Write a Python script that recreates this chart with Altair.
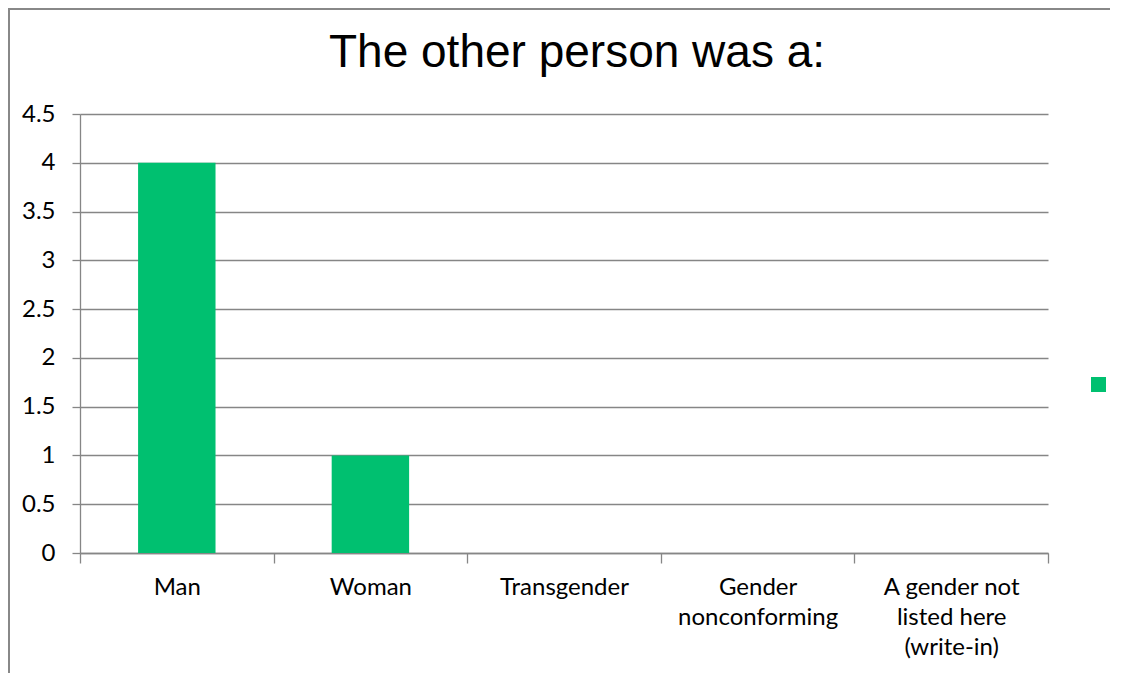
import altair as alt
import pandas as pd

categories = ["Man", "Woman", "Transgender", "Gender nonconforming",
              "A gender not listed here (write-in)"]
counts = [4, 1, 0, 0, 0]
label_lines = {
    "Gender nonconforming": ["Gender", "nonconforming"],
    "A gender not listed here (write-in)": ["A gender not", "listed here", "(write-in)"],
}
y_ticks = [0, 0.5, 1, 1.5, 2, 2.5, 3, 3.5, 4, 4.5]
series_name = "Series1"
bar_color = "#00C070"
grid_color = "#868686"

df = pd.DataFrame({"category": categories, "count": counts, "series": series_name})

label_expr = "".join(
    f"datum.value == '{k}' ? {v!r} : " for k, v in label_lines.items()
) + "datum.label"

bars = alt.Chart(df).mark_bar(width=alt.RelativeBandSize(0.4)).encode(
    x=alt.X("category:N", sort=categories, title=None,
            scale=alt.Scale(paddingInner=0, paddingOuter=0),
            axis=alt.Axis(tickBand="extent", labelAngle=0, labelExpr=label_expr,
                          labelFont="Lato", labelFontSize=24, labelColor="#000000",
                          labelLineHeight=30, labelPadding=12, labelBaseline="top",
                          tickSize=10, tickColor=grid_color, tickWidth=1.3,
                          domainColor=grid_color, domainWidth=1.3, grid=False,
                          labelLimit=300)),
    y=alt.Y("count:Q", title=None, scale=alt.Scale(domain=[0, 4.5], nice=False),
            axis=alt.Axis(values=y_ticks, labelExpr="toString(datum.value)",
                          labelFont="Lato", labelFontSize=24, labelColor="#000000",
                          labelPadding=17, tickSize=8, tickColor=grid_color,
                          tickWidth=1.3, domainColor=grid_color, domainWidth=1.3,
                          grid=True, gridColor=grid_color, gridWidth=1.3)),
    color=alt.Color("series:N", scale=alt.Scale(range=[bar_color]),
                    legend=alt.Legend(title=None, orient="none", legendX=1011,
                                      legendY=263, symbolType="square",
                                      symbolSize=225, symbolStrokeWidth=0,
                                      labelExpr="''", labelFontSize=1, padding=0)),
)

frame = pd.DataFrame({"k": [0]})
border_top = alt.Chart(frame).mark_rule(color="#888888", strokeWidth=2).encode(
    x=alt.value(-72), x2=alt.value(1100), y=alt.value(-105))
border_left = alt.Chart(frame).mark_rule(color="#888888", strokeWidth=2).encode(
    x=alt.value(-71), y=alt.value(-106), y2=alt.value(700))

chart = alt.layer(bars, border_top, border_left).properties(
    width=968, height=439,
    title=alt.TitleParams("The other person was a:", font="Liberation Sans",
                          fontSize=46, fontWeight="normal", color="#000000",
                          anchor="middle", frame="group", dx=13, offset=32,
                          dy=138, baseline="alphabetic"),
    autosize=alt.AutoSizeParams(type="none"),
    padding={"left": 72, "top": 106, "right": 62, "bottom": 120},
).configure_view(stroke=None)

chart.save("out.html", embed_options={"renderer": "svg", "actions": False})
